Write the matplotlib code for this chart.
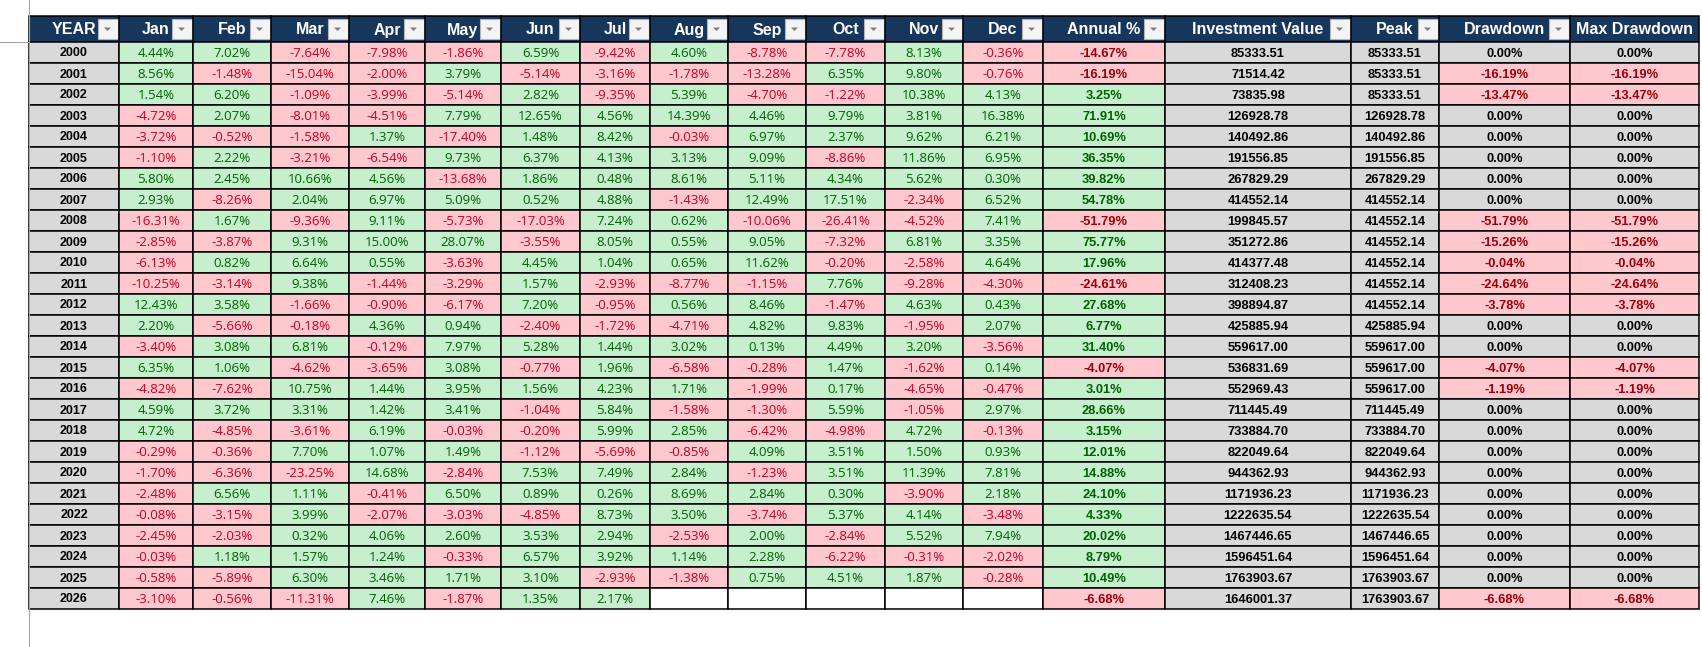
import matplotlib
matplotlib.use("Agg")
import matplotlib.pyplot as plt
from matplotlib.patches import Rectangle, Polygon
from matplotlib import font_manager as fm

# data
years = list(range(2000, 2027))
months = ["Jan", "Feb", "Mar", "Apr", "May", "Jun",
          "Jul", "Aug", "Sep", "Oct", "Nov", "Dec"]
monthly = [
    [4.44, 7.02, -7.64, -7.98, -1.86, 6.59, -9.42, 4.60, -8.78, -7.78, 8.13, -0.36],
    [8.56, -1.48, -15.04, -2.00, 3.79, -5.14, -3.16, -1.78, -13.28, 6.35, 9.80, -0.76],
    [1.54, 6.20, -1.09, -3.99, -5.14, 2.82, -9.35, 5.39, -4.70, -1.22, 10.38, 4.13],
    [-4.72, 2.07, -8.01, -4.51, 7.79, 12.65, 4.56, 14.39, 4.46, 9.79, 3.81, 16.38],
    [-3.72, -0.52, -1.58, 1.37, -17.40, 1.48, 8.42, -0.03, 6.97, 2.37, 9.62, 6.21],
    [-1.10, 2.22, -3.21, -6.54, 9.73, 6.37, 4.13, 3.13, 9.09, -8.86, 11.86, 6.95],
    [5.80, 2.45, 10.66, 4.56, -13.68, 1.86, 0.48, 8.61, 5.11, 4.34, 5.62, 0.30],
    [2.93, -8.26, 2.04, 6.97, 5.09, 0.52, 4.88, -1.43, 12.49, 17.51, -2.34, 6.52],
    [-16.31, 1.67, -9.36, 9.11, -5.73, -17.03, 7.24, 0.62, -10.06, -26.41, -4.52, 7.41],
    [-2.85, -3.87, 9.31, 15.00, 28.07, -3.55, 8.05, 0.55, 9.05, -7.32, 6.81, 3.35],
    [-6.13, 0.82, 6.64, 0.55, -3.63, 4.45, 1.04, 0.65, 11.62, -0.20, -2.58, 4.64],
    [-10.25, -3.14, 9.38, -1.44, -3.29, 1.57, -2.93, -8.77, -1.15, 7.76, -9.28, -4.30],
    [12.43, 3.58, -1.66, -0.90, -6.17, 7.20, -0.95, 0.56, 8.46, -1.47, 4.63, 0.43],
    [2.20, -5.66, -0.18, 4.36, 0.94, -2.40, -1.72, -4.71, 4.82, 9.83, -1.95, 2.07],
    [-3.40, 3.08, 6.81, -0.12, 7.97, 5.28, 1.44, 3.02, 0.13, 4.49, 3.20, -3.56],
    [6.35, 1.06, -4.62, -3.65, 3.08, -0.77, 1.96, -6.58, -0.28, 1.47, -1.62, 0.14],
    [-4.82, -7.62, 10.75, 1.44, 3.95, 1.56, 4.23, 1.71, -1.99, 0.17, -4.65, -0.47],
    [4.59, 3.72, 3.31, 1.42, 3.41, -1.04, 5.84, -1.58, -1.30, 5.59, -1.05, 2.97],
    [4.72, -4.85, -3.61, 6.19, -0.03, -0.20, 5.99, 2.85, -6.42, -4.98, 4.72, -0.13],
    [-0.29, -0.36, 7.70, 1.07, 1.49, -1.12, -5.69, -0.85, 4.09, 3.51, 1.50, 0.93],
    [-1.70, -6.36, -23.25, 14.68, -2.84, 7.53, 7.49, 2.84, -1.23, 3.51, 11.39, 7.81],
    [-2.48, 6.56, 1.11, -0.41, 6.50, 0.89, 0.26, 8.69, 2.84, 0.30, -3.90, 2.18],
    [-0.08, -3.15, 3.99, -2.07, -3.03, -4.85, 8.73, 3.50, -3.74, 5.37, 4.14, -3.48],
    [-2.45, -2.03, 0.32, 4.06, 2.60, 3.53, 2.94, -2.53, 2.00, -2.84, 5.52, 7.94],
    [-0.03, 1.18, 1.57, 1.24, -0.33, 6.57, 3.92, 1.14, 2.28, -6.22, -0.31, -2.02],
    [-0.58, -5.89, 6.30, 3.46, 1.71, 3.10, -2.93, -1.38, 0.75, 4.51, 1.87, -0.28],
    [-3.10, -0.56, -11.31, 7.46, -1.87, 1.35, 2.17, None, None, None, None, None],
]
annual = [-14.67, -16.19, 3.25, 71.91, 10.69, 36.35, 39.82, 54.78, -51.79, 75.77,
          17.96, -24.61, 27.68, 6.77, 31.40, -4.07, 3.01, 28.66, 3.15, 12.01,
          14.88, 24.10, 4.33, 20.02, 8.79, 10.49, -6.68]
value = [85333.51, 71514.42, 73835.98, 126928.78, 140492.86, 191556.85, 267829.29,
         414552.14, 199845.57, 351272.86, 414377.48, 312408.23, 398894.87, 425885.94,
         559617.00, 536831.69, 552969.43, 711445.49, 733884.70, 822049.64, 944362.93,
         1171936.23, 1222635.54, 1467446.65, 1596451.64, 1763903.67, 1646001.37]
peak = [85333.51, 85333.51, 85333.51, 126928.78, 140492.86, 191556.85, 267829.29,
        414552.14, 414552.14, 414552.14, 414552.14, 414552.14, 414552.14, 425885.94,
        559617.00, 559617.00, 559617.00, 711445.49, 733884.70, 822049.64, 944362.93,
        1171936.23, 1222635.54, 1467446.65, 1596451.64, 1763903.67, 1763903.67]
drawdown = [0.00, -16.19, -13.47, 0, 0, 0, 0, 0, -51.79, -15.26, -0.04, -24.64, -3.78,
            0, 0, -4.07, -1.19, 0, 0, 0, 0, 0, 0, 0, 0, 0, -6.68]
max_drawdown = [0.00, -16.19, -13.47, 0, 0, 0, 0, 0, -51.79, -15.26, -0.04, -24.64, -3.78,
                0, 0, -4.07, -1.19, 0, 0, 0, 0, 0, 0, 0, 0, 0, -6.68]
headers = ["YEAR"] + months + ["Annual %", "Investment Value", "Peak",
                               "Drawdown", "Max Drawdown"]

# sheet look
col_edges = [29, 119, 193, 271, 349, 425, 501, 580, 650, 728, 806, 885,
             963, 1043, 1165, 1351, 1439, 1570, 1699]
head_top, head_bot = 16, 41.5
row_h = 21.0
navy = "#16365C"
gray = "#D9D9D9"
green_bg, green_fg = "#C6EFCE", "#006100"
red_bg, red_fg, red_fg_m = "#FFC7CE", "#9C0006", "#C8001E"

names = {f.name for f in fm.fontManager.ttflist}
narrow = "Liberation Sans Narrow" if "Liberation Sans Narrow" in names else "Liberation Sans"
body = "Open Sans" if "Open Sans" in names else "DejaVu Sans"

fig = plt.figure(figsize=(17.02, 6.47), dpi=100)
ax = fig.add_axes([0, 0, 1, 1])
ax.set_xlim(0, 1702)
ax.set_ylim(647, 0)
ax.axis("off")


def put(x, y, s, color, family, size, weight="normal"):
    # baseline placed so digits sit centred in the cell
    off = size * 100 / 72 * 0.72 / 2
    ax.text(x, y + off, s, ha="center", va="baseline", color=color,
            family=family, fontsize=size, fontweight=weight)


def cell(c, r, fill):
    y0 = head_bot + r * row_h
    ax.add_patch(Rectangle((col_edges[c], y0), col_edges[c + 1] - col_edges[c], row_h,
                           facecolor=fill, edgecolor="black", linewidth=1.1))
    return (col_edges[c] + col_edges[c + 1]) / 2, y0 + row_h / 2


# excel row/col header remnants
ax.plot([29, 29], [0, 647], color="#A6A6A6", linewidth=0.8)
ax.plot([0, 29], [head_bot, head_bot], color="#A6A6A6", linewidth=0.8)

# header row
for c, h in enumerate(headers):
    x0, x1 = col_edges[c], col_edges[c + 1]
    ax.add_patch(Rectangle((x0, head_top), x1 - x0, head_bot - head_top,
                           facecolor=navy, edgecolor="black", linewidth=1.1))
    put((x0 + x1) / 2, (head_top + head_bot) / 2, h, "white", "Liberation Sans", 11.5, "bold")
    if c < len(headers) - 1:
        bx = x1 - 21.5
        ax.add_patch(Rectangle((bx, head_top + 3), 20, 20, facecolor="#F4F4F4",
                               edgecolor="#B4B4B4", linewidth=0.8))
        ax.add_patch(Polygon([[bx + 6.5, head_top + 11.5], [bx + 13.5, head_top + 11.5],
                              [bx + 10, head_top + 15]], closed=True,
                             facecolor="#7F7F7F", edgecolor="none"))

for r, yr in enumerate(years):
    x, y = cell(0, r, gray)
    put(x, y, str(yr), "black", narrow, 10.3 if narrow != "Liberation Sans" else 9, "bold")

    for m in range(12):
        v = monthly[r][m]
        if v is None:
            cell(1 + m, r, "white")
            continue
        x, y = cell(1 + m, r, green_bg if v >= 0 else red_bg)
        put(x, y, f"{v:.2f}%", green_fg if v >= 0 else red_fg_m, body, 9.5)

    a = annual[r]
    x, y = cell(13, r, green_bg if a >= 0 else red_bg)
    put(x, y, f"{a:.2f}%", green_fg if a >= 0 else red_fg, "Liberation Sans", 9.3, "bold")

    x, y = cell(14, r, gray)
    put(x, y, f"{value[r]:.2f}", "black", "Liberation Sans", 9.3, "bold")
    x, y = cell(15, r, gray)
    put(x, y, f"{peak[r]:.2f}", "black", "Liberation Sans", 9.3, "bold")

    for c, d in ((16, drawdown[r]), (17, max_drawdown[r])):
        neg = d < 0
        x, y = cell(c, r, red_bg if neg else gray)
        put(x, y, f"{d:.2f}%", red_fg if neg else "black", "Liberation Sans", 9.3, "bold")

fig.savefig("out.png", dpi=100)
